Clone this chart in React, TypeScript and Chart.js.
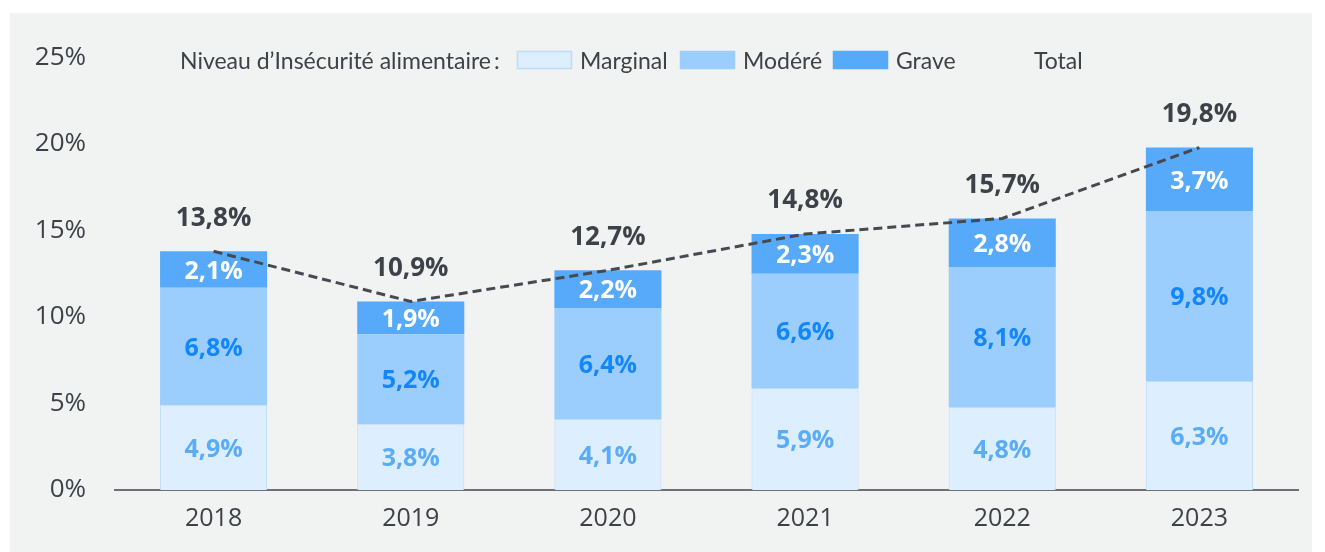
import React, { useEffect, useRef } from "react";
import { Chart, registerables } from "chart.js";

Chart.register(...registerables);

const years = ["2018", "2019", "2020", "2021", "2022", "2023"];
const marginal = [4.9, 3.8, 4.1, 5.9, 4.8, 6.3];
const modere = [6.8, 5.2, 6.4, 6.6, 8.1, 9.8];
const grave = [2.1, 1.9, 2.2, 2.3, 2.8, 3.7];
const total = [13.8, 10.9, 12.7, 14.8, 15.7, 19.8];
const yTicks = [0, 5, 10, 15, 20, 25];

const legendTitle = "Niveau d\u2019Ins\u00e9curit\u00e9 alimentaire\u2009:";
const legendNames = ["Marginal", "Mod\u00e9r\u00e9", "Grave", "Total"];

const C_MARG = "#ddeefe";
const C_MARG_B = "#bcdcfb";
const C_MOD = "#9bcdfd";
const C_GRAVE = "#56aaf9";
const C_TEXT = "#3d4249";

const fmt = (v: number) => v.toFixed(1).replace(".", ",") + "%";

const labelPlugin = {
  id: "valueLabels",
  afterDatasetsDraw(chart: any) {
    const ctx = chart.ctx;
    ctx.save();
    ctx.textAlign = "center";
    ctx.textBaseline = "middle";
    const colors = ["#5aacf6", "#1287fb", "#ffffff"];
    const sets = [marginal, modere, grave];
    for (let d = 0; d < 3; d++) {
      const meta = chart.getDatasetMeta(d);
      meta.data.forEach((el: any, i: number) => {
        const y = (el.y + el.base) / 2;
        ctx.font = "bold 25px 'Open Sans'";
        ctx.fillStyle = colors[d];
        ctx.fillText(fmt(sets[d][i]), el.x, y + 2);
      });
    }
    const top = chart.getDatasetMeta(2);
    top.data.forEach((el: any, i: number) => {
      ctx.font = "bold 26px 'Open Sans'";
      ctx.fillStyle = C_TEXT;
      ctx.fillText(fmt(total[i]), el.x, el.y - 33);
    });
    ctx.restore();
  },
};

const legendPlugin = {
  id: "customLegend",
  afterDraw(chart: any) {
    const ctx = chart.ctx;
    ctx.save();
    ctx.textBaseline = "middle";
    ctx.textAlign = "left";
    ctx.font = "23px Lato";
    ctx.fillStyle = C_TEXT;
    const cy = 49;
    ctx.fillText(legendTitle, 170, cy);
    const boxes = [
      { x: 507, fill: C_MARG, border: C_MARG_B },
      { x: 670, fill: C_MOD, border: C_MOD },
      { x: 823, fill: C_GRAVE, border: C_GRAVE },
    ];
    boxes.forEach((b, i) => {
      ctx.fillStyle = b.fill;
      ctx.fillRect(b.x, 38, 55, 18);
      ctx.strokeStyle = b.border;
      ctx.lineWidth = 1.5;
      ctx.strokeRect(b.x + 0.5, 38.5, 54, 17);
      ctx.fillStyle = C_TEXT;
      ctx.fillText(legendNames[i], b.x + 63, cy);
    });
    ctx.fillText(legendNames[3], 1024, cy);
    ctx.restore();
  },
};

export default function App() {
  const ref = useRef<HTMLCanvasElement>(null);
  useEffect(() => {
    const chart = new Chart(ref.current as HTMLCanvasElement, {
      type: "bar",
      data: {
        labels: years,
        datasets: [
          {
            label: legendNames[0],
            data: marginal,
            backgroundColor: C_MARG,
            borderColor: C_MARG_B,
            borderWidth: 1,
            stack: "s",
            order: 1,
          },
          {
            label: legendNames[1],
            data: modere,
            backgroundColor: C_MOD,
            borderColor: C_MOD,
            borderWidth: 0,
            stack: "s",
            order: 1,
          },
          {
            label: legendNames[2],
            data: grave,
            backgroundColor: C_GRAVE,
            borderWidth: 0,
            stack: "s",
            order: 1,
          },
          {
            type: "line",
            label: legendNames[3],
            data: total,
            borderColor: "#454a50",
            borderWidth: 3,
            borderDash: [9, 5],
            pointRadius: 0,
            fill: false,
            stack: "t",
            order: 0,
          } as any,
        ],
      },
      options: {
        animation: false,
        responsive: false,
        events: [],
        datasets: {
          bar: { categoryPercentage: 1, barPercentage: 0.543 },
        },
        layout: { padding: { top: 42, right: 14, left: 0, bottom: 0 } },
        plugins: { legend: { display: false }, tooltip: { enabled: false } },
        scales: {
          x: {
            stacked: true,
            grid: { display: false, drawTicks: false },
            border: { display: true, color: "#6d7175", width: 2 },
            ticks: {
              color: "#3d4249",
              font: { family: "'Open Sans'", size: 25 },
              padding: 14,
            },
            afterFit: (s: any) => {
              s.height = 62;
            },
          },
          y: {
            stacked: true,
            min: 0,
            max: 25,
            grid: { display: false, drawTicks: false },
            border: { display: false },
            afterBuildTicks: (s: any) => {
              s.ticks = yTicks.map((v) => ({ value: v }));
            },
            ticks: {
              color: "#3d4249",
              font: { family: "'Open Sans'", size: 26 },
              padding: 29,
              callback: (v: any) => v + "%",
            },
            afterFit: (s: any) => {
              s.width = 105;
            },
          },
        },
      },
      plugins: [labelPlugin, legendPlugin],
    });
    return () => chart.destroy();
  }, []);
  return (
    <div
      style={{
        position: "absolute",
        left: 10,
        top: 13,
        width: 1302,
        height: 539,
        background: "#f1f2f2",
      }}
    >
      <canvas ref={ref} width={1302} height={539} style={{ display: "block" }} />
    </div>
  );
}
